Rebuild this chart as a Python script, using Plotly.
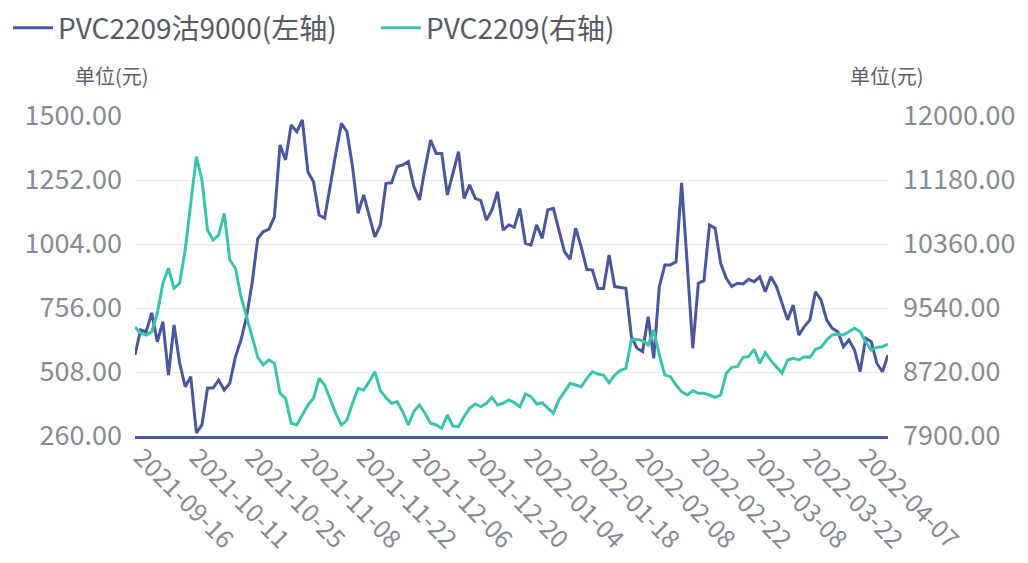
import pandas as pd
import plotly.graph_objects as go

# trading days: weekdays minus exchange holidays
HOLIDAYS = [
    "2021-09-20", "2021-09-21", "2021-10-01", "2021-10-04", "2021-10-05",
    "2021-10-06", "2021-10-07", "2022-01-03", "2022-01-31", "2022-02-01",
    "2022-02-02", "2022-02-03", "2022-02-04", "2022-04-04", "2022-04-05",
]
days = pd.bdate_range("2021-09-16", "2022-04-14")
dates = [d.strftime("%Y-%m-%d") for d in days if d.strftime("%Y-%m-%d") not in HOLIDAYS]

# PVC2209 put 9000 (left axis)
put_9000 = [
    574, 671, 664, 737, 625, 703, 496, 690, 543, 451,
    490, 272, 303, 446, 446, 477, 438, 465, 567, 632,
    722, 853, 1025, 1052, 1061, 1110, 1388, 1330, 1465, 1439,
    1485, 1284, 1245, 1116, 1104, 1233, 1355, 1472, 1439, 1304,
    1123, 1194, 1110, 1032, 1078, 1239, 1241, 1304, 1310, 1323,
    1226, 1175, 1297, 1407, 1355, 1355, 1194, 1278, 1362, 1181,
    1233, 1181, 1172, 1097, 1136, 1207, 1058, 1078, 1069, 1142,
    1007, 1000, 1078, 1026, 1136, 1142, 1058, 974, 945, 1065,
    993, 906, 903, 832, 832, 961, 839, 836, 832, 645,
    600, 587, 722, 561, 839, 923, 923, 935, 1241, 929,
    600, 852, 862, 1078, 1065, 929, 871, 839, 852, 849,
    867, 858, 877, 819, 877, 839, 774, 710, 768, 651,
    684, 710, 819, 787, 710, 677, 664, 606, 632, 593,
    509, 639, 625, 542, 509, 574,
]

# PVC2209 futures (right axis)
pvc_2209 = [
    9293, 9216, 9194, 9237, 9472, 9856, 10049, 9792, 9856, 10283,
    10881, 11479, 11180, 10539, 10411, 10475, 10753, 10155, 10049, 9685,
    9429, 9152, 8910, 8810, 8874, 8831, 8447, 8383, 8063, 8041,
    8169, 8297, 8383, 8639, 8553, 8361, 8191, 8041, 8105, 8319,
    8511, 8489, 8596, 8724, 8480, 8390, 8319, 8340, 8212, 8041,
    8212, 8297, 8191, 8063, 8041, 7998, 8169, 8028, 8020, 8148,
    8255, 8310, 8276, 8319, 8396, 8297, 8319, 8361, 8327, 8276,
    8438, 8404, 8310, 8327, 8255, 8191, 8361, 8468, 8575, 8553,
    8532, 8639, 8724, 8694, 8681, 8583, 8681, 8737, 8767, 9130,
    9139, 9121, 9066, 9258, 8938, 8681, 8660, 8553, 8468, 8425,
    8480, 8447, 8447, 8425, 8396, 8425, 8703, 8780, 8788, 8908,
    8916, 9011, 8831, 8968, 8865, 8788, 8703, 8874, 8896, 8874,
    8916, 8908, 9011, 9036, 9130, 9194, 9207, 9194, 9237, 9280,
    9237, 9108, 9002, 9036, 9044, 9079,
]

left_ticks = [260, 508, 756, 1004, 1252, 1500]
right_ticks = [7900, 8720, 9540, 10360, 11180, 12000]

BLUE = "#4b579d"
TEAL = "#3cc3ae"
GREY = "#868a94"
FONT = "Noto Sans CJK SC"

fig = go.Figure()
fig.add_trace(go.Scatter(
    x=dates, y=put_9000, name="PVC2209沽9000(左轴)", mode="lines",
    line=dict(color=BLUE, width=3), legend="legend",
))
fig.add_trace(go.Scatter(
    x=dates, y=pvc_2209, name="PVC2209(右轴)", mode="lines",
    line=dict(color=TEAL, width=3), yaxis="y2", legend="legend2",
))

legend_style = dict(
    orientation="h", xref="container", yref="container",
    y=0.9645, xanchor="left", yanchor="middle",
    font=dict(size=28, color="#555a66"), itemwidth=40,
)

# page body adds an 8px offset, so margins are shifted left/up by 8
fig.update_layout(
    width=1028, height=563,
    margin=dict(l=127, r=148, t=108, b=135),
    paper_bgcolor="white", plot_bgcolor="white",
    font=dict(family=FONT, color=GREY),
    showlegend=True,
    legend=dict(x=0, **legend_style),
    legend2=dict(x=0.358, **legend_style),
    xaxis=dict(
        type="category", range=[0, len(dates) - 1],
        tickvals=dates[::10], ticktext=dates[::10], tickangle=45,
        tickfont=dict(size=25, color=GREY),
        showgrid=False, showline=True, linecolor=BLUE, linewidth=3,
        ticks="", zeroline=False, automargin=False,
        ticklabelstandoff=-6, ticklabelshift=6,
    ),
    yaxis=dict(
        range=[260, 1500], tickvals=left_ticks, tickformat=".2f",
        tickfont=dict(size=27, color=GREY),
        showgrid=True, gridcolor="#e8e8f5", gridwidth=1,
        zeroline=False, ticks="", ticklabelstandoff=12, automargin=False,
    ),
    yaxis2=dict(
        range=[7900, 12000], tickvals=right_ticks, tickformat=".2f",
        tickfont=dict(size=27, color=GREY),
        overlaying="y", side="right", showgrid=False,
        zeroline=False, ticks="", ticklabelstandoff=14, automargin=False,
    ),
    annotations=[
        dict(text="单位(元)", xref="paper", yref="paper", x=-0.0305, y=1.128,
             xanchor="center", yanchor="middle", showarrow=False,
             font=dict(size=20, color="#5c606b")),
        dict(text="单位(元)", xref="paper", yref="paper", x=0.9987, y=1.128,
             xanchor="center", yanchor="middle", showarrow=False,
             font=dict(size=20, color="#5c606b")),
    ],
)

fig.write_html("out.html")
